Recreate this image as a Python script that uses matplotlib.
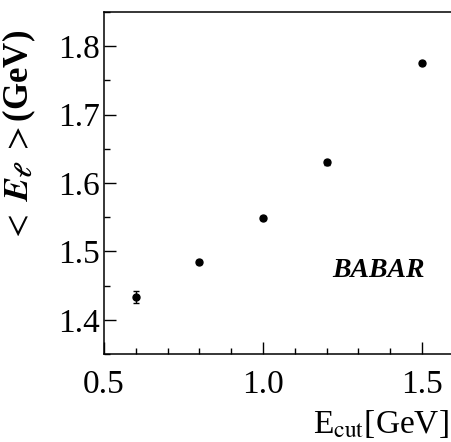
import matplotlib
matplotlib.use("Agg")
import matplotlib.pyplot as plt
from matplotlib.ticker import MultipleLocator

plt.rcParams['font.family'] = ['Liberation Serif', 'DejaVu Serif']
plt.rcParams['mathtext.fontset'] = 'stix'

# mean lepton energy vs. lepton energy cut
e_cut = [0.6, 0.8, 1.0, 1.2, 1.5]
mean_el = [1.433, 1.485, 1.549, 1.630, 1.775]
mean_el_err = [0.0085, 0.003, 0.003, 0.003, 0.003]

fig = plt.figure(figsize=(4.51, 4.42), dpi=100)
ax = fig.add_axes([0.2306, 0.199, 0.7694, 0.7739])

ax.errorbar(e_cut, mean_el, yerr=mean_el_err, fmt='o', color='black',
            markersize=5, elinewidth=1, capsize=2, capthick=1)

ax.set_xlim(0.5, 1.591)
ax.set_ylim(1.35, 1.85)
ax.xaxis.set_major_locator(MultipleLocator(0.5))
ax.xaxis.set_minor_locator(MultipleLocator(0.1))
ax.yaxis.set_major_locator(MultipleLocator(0.1))
ax.yaxis.set_minor_locator(MultipleLocator(0.05))
ax.xaxis.set_major_formatter(plt.FormatStrFormatter('%.1f'))
ax.yaxis.set_major_formatter(plt.FormatStrFormatter('%.1f'))

ax.tick_params(which='both', direction='in', top=False, right=False,
               labelsize=24, width=1)
ax.tick_params(which='major', length=8.4)
ax.tick_params(which='minor', length=4.3)
ax.tick_params(axis='x', which='major', pad=11)
ax.tick_params(axis='y', which='major', pad=3)

for side in ['left', 'bottom', 'top']:
    ax.spines[side].set_linewidth(1.1)
ax.spines['right'].set_visible(False)

ax.set_ylabel(r'$<\ \mathbfit{E}_{\mathbfit{\ell}}\ >$(GeV)', fontsize=25,
              fontweight='bold')
ax.yaxis.set_label_coords(-0.19, 0.635)

fig.text(0.996, 0.005, r'E$_{\rm cut}$[GeV]', fontsize=24, ha='right', va='bottom')

ax.text(0.79, 0.245, 'BABAR', transform=ax.transAxes, fontsize=20,
        fontweight='bold', fontstyle='italic', ha='center', va='center')

fig.savefig('out.png', dpi=100)
